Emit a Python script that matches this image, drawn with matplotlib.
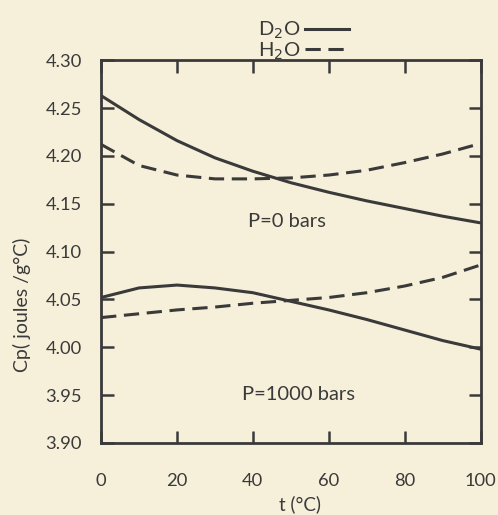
"""
Cp de D2O y H2O frente a temperatura, a P=0 y P=1000 bars.
"""

import matplotlib
matplotlib.use("Agg")
import matplotlib.pyplot as plt

# datos
t = [0, 10, 20, 30, 40, 50, 60, 70, 80, 90, 100]
d2o_p0 = [4.263, 4.238, 4.216, 4.198, 4.184, 4.172, 4.162, 4.153, 4.145, 4.137, 4.130]
h2o_p0 = [4.212, 4.190, 4.180, 4.176, 4.176, 4.177, 4.180, 4.185, 4.193, 4.202, 4.213]
d2o_p1000 = [4.052, 4.062, 4.065, 4.062, 4.057, 4.048, 4.039, 4.029, 4.018, 4.007, 3.998]
h2o_p1000 = [4.031, 4.035, 4.039, 4.042, 4.046, 4.049, 4.052, 4.057, 4.064, 4.073, 4.086]

xticks = [0, 20, 40, 60, 80, 100]
yticks = [3.90, 3.95, 4.00, 4.05, 4.10, 4.15, 4.20, 4.25, 4.30]

bg = "#f6f0da"
ink = "#3a3a3a"

plt.rcParams["font.family"] = ["Lato", "DejaVu Sans"]

fig = plt.figure(figsize=(4.98, 5.15), dpi=100, facecolor=bg)
ax = fig.add_axes([0.203, 0.140, 0.762, 0.743])
ax.set_facecolor(bg)

lw = 2.2
dash = (5, 2.5)
l1, = ax.plot(t, d2o_p0, color=ink, lw=lw, label="D$_2$O")
l2, = ax.plot(t, h2o_p0, color=ink, lw=lw, dashes=dash, label="H$_2$O")
ax.plot(t, d2o_p1000, color=ink, lw=lw)
ax.plot(t, h2o_p1000, color=ink, lw=lw, dashes=dash)

ax.set_xlim(0, 100)
ax.set_ylim(3.90, 4.30)
ax.set_xticks(xticks)
ax.set_yticks(yticks)
ax.set_yticklabels([f"{v:.2f}" for v in yticks])

for s in ax.spines.values():
    s.set_linewidth(2.0)
    s.set_color(ink)

ax.tick_params(axis="both", direction="in", length=9, width=1.8, color=ink,
               top=True, right=True, labelsize=13.2, labelcolor=ink)
ax.tick_params(axis="x", pad=22)
ax.tick_params(axis="y", pad=14)

ax.set_xlabel("t (°C)", fontsize=13.5, color=ink)
ax.xaxis.set_label_coords(0.525, -0.138)
ax.set_ylabel("Cp( joules /g°C)", fontsize=14, color=ink)
ax.yaxis.set_label_coords(-0.185, 0.36)

ax.text(49, 4.131, "P=0 bars", ha="center", va="center", fontsize=14.5, color=ink)
ax.text(52, 3.951, "P=1000 bars", ha="center", va="center", fontsize=14.5, color=ink)

ax.legend(handles=[l1, l2], loc="lower right", bbox_to_anchor=(0.675, 0.975),
          markerfirst=False, frameon=False, fontsize=14.5, handlelength=2.2,
          handletextpad=0.25, labelspacing=-0.05, borderaxespad=0.0,
          labelcolor=ink)

fig.savefig("out.png", dpi=100, facecolor=bg)
